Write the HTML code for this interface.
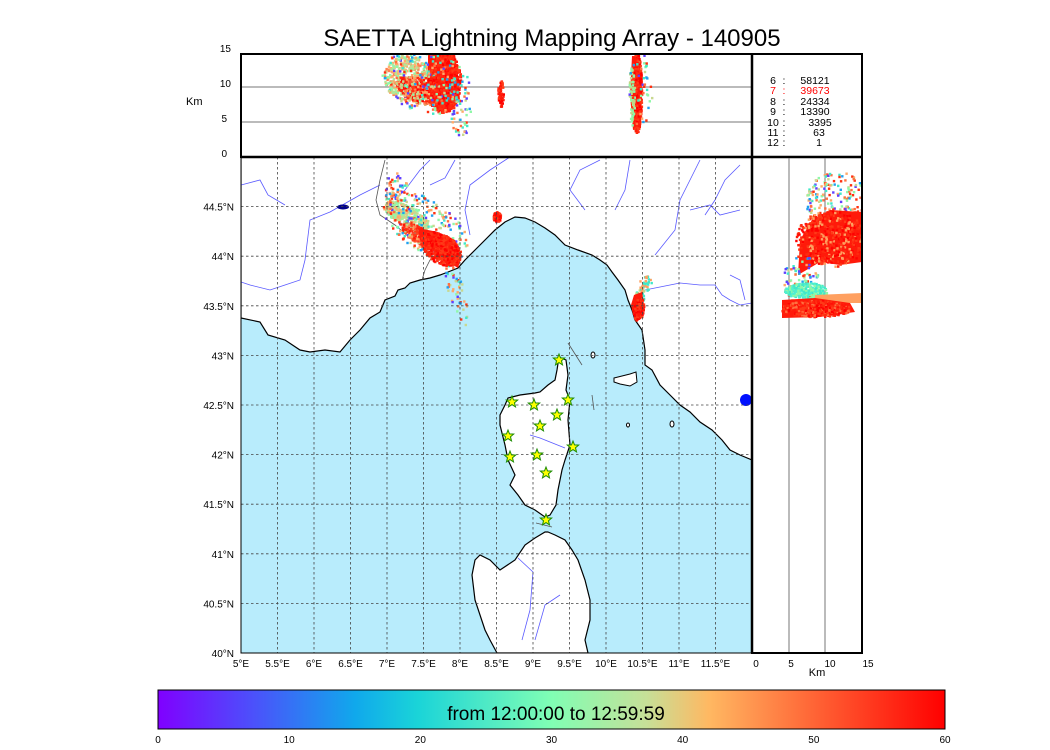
<!DOCTYPE html>
<html><head><meta charset="utf-8">
<style>
html,body{margin:0;padding:0;background:#fff;}
svg{display:block;font-family:"Liberation Sans",sans-serif;}
</style></head>
<body>
<svg id="s" width="1050" height="750" viewBox="0 0 1050 750" xmlns="http://www.w3.org/2000/svg">
<defs>
<linearGradient id="cb" x1="0" x2="1" y1="0" y2="0">
<stop offset="0" stop-color="#8000ff"/>
<stop offset="0.12" stop-color="#4c50fb"/>
<stop offset="0.25" stop-color="#10a8ec"/>
<stop offset="0.33" stop-color="#1ad4d8"/>
<stop offset="0.5" stop-color="#80feb4"/>
<stop offset="0.62" stop-color="#c6e098"/>
<stop offset="0.7" stop-color="#ffb862"/>
<stop offset="0.85" stop-color="#ff5a30"/>
<stop offset="1" stop-color="#ff0000"/>
</linearGradient>
<clipPath id="mc"><rect x="241" y="157" width="511" height="496"/></clipPath>
<clipPath id="tc"><rect x="241" y="54" width="511" height="103"/></clipPath>
<clipPath id="rc"><rect x="752" y="157" width="110" height="496"/></clipPath>
</defs>
<text x="552" y="46" font-size="24" text-anchor="middle">SAETTA Lightning Mapping Array - 140905</text>

<g clip-path="url(#mc)">
<rect x="241" y="157" width="511" height="496" fill="#b8ecfc"/>
<polygon fill="#fff" stroke="#000" stroke-width="1.2" points="241,157 752,157 752,460 740,455 730,450 722,440 712,430 700,422 690,412 680,405 670,395 660,385 652,370 645,365 645,350 642,330 635,320 632,310 628,300 625,290 618,280 612,272 607,265 600,260 592,255 578,250 565,245 555,235 545,228 535,222 525,218 515,217 505,222 495,230 485,240 475,250 465,260 458,268 448,272 440,275 430,278 420,280 410,283 405,288 398,290 395,296 385,300 380,312 370,318 360,330 350,340 340,352 325,350 310,352 300,350 285,340 268,335 260,322 241,318"/>
<polygon fill="#fff" stroke="#000" stroke-width="1.2" points="559,357 566,360 568,375 566,390 570,400 568,420 570,445 565,460 562,470 558,490 556,505 550,515 545,517 535,510 525,505 518,495 510,485 515,475 508,460 505,445 500,425 500,415 505,405 508,398 520,395 535,393 540,392 548,385 555,380 557,370"/>
<polygon fill="#fff" stroke="#000" stroke-width="1.2" points="548,532 555,535 565,540 572,550 578,560 585,580 590,600 590,620 585,640 588,653 497,653 490,640 485,630 475,600 472,575 475,560 480,555 490,560 500,570 515,560 525,545 535,538 545,532"/>
<polygon fill="#fff" stroke="#000" stroke-width="1" points="614,378 622,376 630,374 636,372 637,382 630,386 620,384 614,382"/>
<ellipse cx="593" cy="355" rx="2" ry="3" fill="#fff" stroke="#000"/>
<ellipse cx="628" cy="425" rx="1.5" ry="2" fill="#fff" stroke="#000"/>
<ellipse cx="672" cy="424" rx="2" ry="3" fill="#fff" stroke="#000"/>
<g fill="none" stroke="#5a5aff" stroke-width="0.8">
<polyline points="241,185 260,180 268,195 285,205"/>
<polyline points="380,185 360,195 330,212 310,220 305,260 300,280 285,285 270,290 250,285 241,282"/>
<polyline points="430,160 420,170 405,190 395,200"/>
<polyline points="455,160 445,178 430,185"/>
<polyline points="510,157 490,170 470,185 465,210 470,235"/>
<polyline points="600,160 580,170 570,190 585,210"/>
<polyline points="630,160 625,190 615,210"/>
<polyline points="700,160 690,180 680,200 675,230 655,255"/>
<polyline points="740,165 725,180 715,200 705,215"/>
<polyline points="690,210 710,205 720,215 740,210"/>
<polyline points="645,290 660,287 680,283 700,285 715,285 722,295 730,300 740,305 752,303"/>
<polyline points="730,275 740,280 745,300"/>
<polyline points="530,435 540,438 550,442 565,448"/>
<polyline points="518,558 533,572 530,610 522,640"/>
<polyline points="560,595 545,605 535,640"/>
</g>
<g stroke="#555" stroke-width="0.8" fill="none">
<polyline points="385,160 380,180 376,200 380,215 395,225 410,238 425,245 445,250 455,258"/>
<polyline points="445,250 430,260 425,270 422,280"/>
<line x1="568" y1="343" x2="582" y2="365"/>
<line x1="592" y1="395" x2="594" y2="410"/>
<line x1="536" y1="523" x2="552" y2="527"/>
</g>
<ellipse cx="343" cy="207" rx="6" ry="2.5" fill="#00008b"/>
<circle cx="746" cy="400" r="6" fill="#0010ff"/>
<g id="mapscatter"></g>
<g stroke="#444" stroke-width="0.8" stroke-dasharray="2.5,2.5" id="grid"></g>
</g>
<rect x="241" y="157" width="511" height="496" fill="none" stroke="#000" stroke-width="1"/>

<line x1="241" y1="122" x2="752" y2="122" stroke="#777" stroke-width="1"/>
<line x1="241" y1="87" x2="752" y2="87" stroke="#777" stroke-width="1"/>
<g clip-path="url(#tc)" id="topscatter"></g>
<rect x="241" y="54" width="621" height="103" fill="none" stroke="#000" stroke-width="2"/>
<line x1="752" y1="54" x2="752" y2="653" stroke="#000" stroke-width="2.5"/>
<line x1="241" y1="157" x2="862" y2="157" stroke="#000" stroke-width="2.5"/>
<g font-size="10" text-anchor="end">
<text x="231" y="52">15</text><text x="231" y="87">10</text><text x="227" y="122">5</text><text x="227" y="157">0</text>
</g>
<text x="186" y="105" font-size="11">Km</text>
<g font-size="10.5" text-anchor="middle">
<text x="773" y="84">6</text><text x="784" y="84">:</text><text x="815" y="84">58121</text>
<text x="773" y="94" fill="#f00">7</text><text x="784" y="94" fill="#f00">:</text><text x="815" y="94" fill="#f00">39673</text>
<text x="773" y="105">8</text><text x="784" y="105">:</text><text x="815" y="105">24334</text>
<text x="773" y="115">9</text><text x="784" y="115">:</text><text x="815" y="115">13390</text>
<text x="773" y="126">10</text><text x="784" y="126">:</text><text x="820" y="126">3395</text>
<text x="773" y="136">11</text><text x="784" y="136">:</text><text x="819" y="136">63</text>
<text x="773" y="146">12</text><text x="784" y="146">:</text><text x="819" y="146">1</text>
</g>

<line x1="789" y1="157" x2="789" y2="653" stroke="#777"/>
<line x1="825" y1="157" x2="825" y2="653" stroke="#777"/>
<g clip-path="url(#rc)" id="rightscatter"></g>
<rect x="752" y="157" width="110" height="496" fill="none" stroke="#000" stroke-width="2"/>
<g font-size="10" text-anchor="middle">
<text x="756" y="667">0</text><text x="791" y="667">5</text><text x="830" y="667">10</text><text x="868" y="667">15</text>
</g>
<text x="817" y="676" font-size="11" text-anchor="middle">Km</text>

<g id="labels" font-size="10"></g>
<g id="stars"></g>

<rect x="158" y="690" width="787" height="39" fill="url(#cb)" stroke="#000" stroke-width="1"/>
<text x="556" y="720" font-size="19" text-anchor="middle">from 12:00:00 to 12:59:59</text>
<g id="cbt" font-size="10" text-anchor="middle"></g>
</svg>
<script>
var NS="http://www.w3.org/2000/svg";
function el(p,t,a,txt){var e=document.createElementNS(NS,t);for(var k in a)e.setAttribute(k,a[k]);if(txt!==undefined)e.textContent=txt;p.appendChild(e);return e;}
var seed=12345;function r(){seed=(seed*16807)%2147483647;return (seed-1)/2147483646;}
var grid=document.getElementById('grid');
for(var k=1;k<14;k++){var x=241+36.5*k;el(grid,'line',{x1:x,y1:157,x2:x,y2:653});}
for(var k=1;k<10;k++){var y=653-49.6*k;el(grid,'line',{x1:241,y1:y,x2:752,y2:y});}
var L=document.getElementById('labels');
var lon=['5°E','5.5°E','6°E','6.5°E','7°E','7.5°E','8°E','8.5°E','9°E','9.5°E','10°E','10.5°E','11°E','11.5°E'];
for(var k=0;k<14;k++)el(L,'text',{x:241+36.5*k,y:667,'text-anchor':'middle'},lon[k]);
var lat=['40°N','40.5°N','41°N','41.5°N','42°N','42.5°N','43°N','43.5°N','44°N','44.5°N'];
for(var k=0;k<10;k++)el(L,'text',{x:234,y:657-49.6*k,'text-anchor':'end'},lat[k]);
var cbt=document.getElementById('cbt');
for(var k=0;k<7;k++)el(cbt,'text',{x:158+131.17*k,y:743},String(k*10));
var S=document.getElementById('stars');
var st=[[559,360],[512,402],[534,405],[568,400],[557,415],[540,426],[508,436],[537,455],[573,447],[510,457],[546,473],[546,520]];
st.forEach(function(p){var pts=[];for(var i=0;i<10;i++){var a=-Math.PI/2+i*Math.PI/5,R=i%2?2.6:6;pts.push((p[0]+R*Math.cos(a)).toFixed(1)+','+(p[1]+R*Math.sin(a)).toFixed(1));}el(S,'polygon',{points:pts.join(' '),fill:'#ffff00',stroke:'#1a8a00','stroke-width':1});});
var RED=['#ff0000','#ff1a0a','#ff2a10','#ff3a18'];
var MIX=['#90f8a8','#c8d890','#ffa868','#ff7040','#40e8c8','#ff3010','#20a0f0','#6040ff'];
var WARM=['#ffa060','#ff8050','#c0d888','#ff5030'];
var GRN=['#90f8a8','#c8d890','#b0e898','#ffb070'];
function spray(par,cx,cy,rx,ry,rot,n,cols,sz){sz=sz||2.4;var c=Math.cos(rot),s=Math.sin(rot);for(var i=0;i<n;i++){var a=r()*6.2832,d=Math.sqrt(r());var u=d*Math.cos(a)*rx,v=d*Math.sin(a)*ry;var x=cx+u*c-v*s,y=cy+u*s+v*c;el(par,'rect',{x:x.toFixed(1),y:y.toFixed(1),width:sz,height:sz,fill:cols[Math.floor(r()*cols.length)]});}}
// polygon fill helper for dense region
function poly(par,pts,fill){el(par,'polygon',{points:pts,fill:fill});}
var M=document.getElementById('mapscatter');
spray(M,395,190,12,18,0,60,MIX);
spray(M,405,215,25,10,0.5,300,GRN);
spray(M,425,225,50,25,0.6,250,MIX);
spray(M,455,290,8,40,-0.3,50,MIX);
spray(M,420,235,22,8,0.5,300,WARM.concat(RED));
poly(M,'418,228 438,232 455,240 462,255 458,268 448,262 432,250 420,240','#ff1a0a');
spray(M,440,248,22,14,0.6,500,RED);
spray(M,496,216,4,5,0,60,RED);
spray(M,638,300,5,14,0.2,60,['#c0d888','#ffa060','#40e8c8']);
poly(M,'634,295 642,292 644,305 640,318 633,315 631,305','#ff1a0a');
spray(M,638,308,5,12,0.1,120,RED);
spray(M,645,282,6,8,0,30,['#40e8c8','#ffa060']);
var T=document.getElementById('topscatter');
spray(T,408,78,25,22,0.4,450,GRN.concat(['#ffa868','#ff8050']));
spray(T,418,90,25,12,0.4,350,WARM.concat(RED));
poly(T,'428,54 455,54 458,75 460,100 452,110 435,110 428,95','#ff1a0a');
spray(T,443,82,17,30,0.05,700,RED);
spray(T,425,80,45,32,0.3,250,MIX);
spray(T,460,115,10,20,0,40,MIX);
spray(T,500,92,3,14,0,60,RED);
poly(T,'632,56 640,56 642,90 641,128 633,130 630,95','#ff1a0a');
spray(T,636,92,5,40,0,400,RED);
spray(T,631,95,3,30,0,60,['#c0d888','#90f8a8']);
spray(T,640,90,12,38,0,40,MIX);
var Rr=document.getElementById('rightscatter');
spray(Rr,835,200,30,30,0,200,MIX);
poly(Rr,'800,240 812,220 830,210 862,212 862,262 840,265 820,262 798,275','#ff1a0a');
spray(Rr,830,238,35,28,0,500,RED.concat(['#ffa060']));
spray(Rr,800,280,18,28,0,100,MIX);
spray(Rr,806,290,22,8,0,300,['#40e8c8','#50f0d0','#90f8a8']);
poly(Rr,'815,295 862,293 862,303 815,303','#ffa060');
poly(Rr,'782,300 815,298 850,303 855,312 820,317 782,318','#ff1a0a');
spray(Rr,815,308,35,8,0,400,RED.concat(['#ff7040']));
</script>
</body></html>
